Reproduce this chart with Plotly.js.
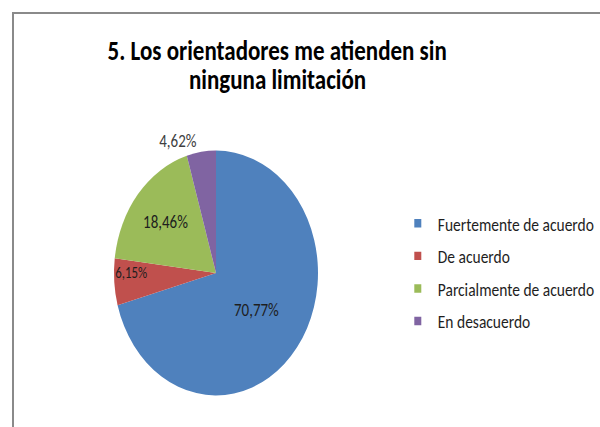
<!DOCTYPE html>
<html>
<head>
<meta charset="utf-8">
<script src="https://cdn.plot.ly/plotly-3.0.1.min.js"></script>
<style>
  html, body { margin: 0; padding: 0; width: 600px; height: 427px; overflow: hidden; background: #fff; }
  #frame { position: absolute; left: 12px; top: 12px; width: 700px; height: 600px; border-left: 2px solid #8a8a8a; border-top: 2px solid #8a8a8a; }
  #chart { position: absolute; left: 0; top: 0; width: 600px; height: 356px; transform: scaleY(1.2); transform-origin: 0 0; }
</style>
</head>
<body>
<div id="frame"></div>
<div id="chart"></div>
<script>
const categories = ["Fuertemente de acuerdo", "De acuerdo", "Parcialmente de acuerdo", "En desacuerdo"];
const values = [70.77, 6.15, 18.46, 4.62];
const colors = ["#4F81BD", "#C0504D", "#9BBB59", "#8064A2"];
const textPositions = ["inside", "inside", "inside", "outside"];
const titleLines = ["5. Los orientadores me atienden sin", "ninguna limitación"];

const FONT = 'Carlito, Lato, "Open Sans", sans-serif';

const pie = {
  type: "pie",
  labels: categories,
  values: values,
  sort: false,
  direction: "clockwise",
  rotation: 0,
  marker: { colors: colors, line: { width: 0 } },
  texttemplate: "%{percent:.2%}",
  textposition: textPositions,
  insidetextorientation: "horizontal",
  insidetextfont: { family: FONT, size: 15, color: "#1e1e1e" },
  outsidetextfont: { family: FONT, size: 15, color: "#404040" },
  domain: { x: [0.19, 0.53], y: [0.0744, 0.6475] },
  showlegend: false,
  hoverinfo: "label+percent"
};

const legendTraces = categories.map((c, i) => ({
  type: "scatter",
  mode: "markers",
  x: [null], y: [null],
  name: c,
  legendgroup: "g" + i,
  marker: { symbol: "square", size: 7, color: colors[i] },
  showlegend: true,
  hoverinfo: "skip"
}));

const layout = {
  width: 600, height: 356,
  margin: { l: 0, r: 0, t: 0, b: 0 },
  paper_bgcolor: "rgba(0,0,0,0)",
  plot_bgcolor: "rgba(0,0,0,0)",
  separators: ",.",
  font: { family: FONT, color: "#000" },
  title: {
    text: "<b>" + titleLines[0] + "</b>",
    font: { family: FONT, size: 23, color: "#000" },
    x: 0.462, xanchor: "center", xref: "paper",
    y: 0.8811, yanchor: "middle", yref: "container"
  },
  annotations: [{
    text: "<b>" + titleLines[1] + "</b>",
    font: { family: FONT, size: 23, color: "#000" },
    x: 0.462, xanchor: "center", xref: "paper",
    y: 0.8151, yanchor: "middle", yref: "paper",
    showarrow: false
  }],
  xaxis: { visible: false },
  yaxis: { visible: false },
  showlegend: true,
  legend: {
    x: 0.663, xanchor: "left",
    y: 0.3624, yanchor: "middle",
    font: { family: FONT, size: 15.5, color: "#1e1e1e" },
    traceorder: "grouped",
    tracegroupgap: 4,
    itemclick: false, itemdoubleclick: false,
    bgcolor: "rgba(0,0,0,0)"
  }
};

Plotly.newPlot("chart", [pie].concat(legendTraces), layout, { displayModeBar: false, staticPlot: true });
</script>
</body>
</html>
